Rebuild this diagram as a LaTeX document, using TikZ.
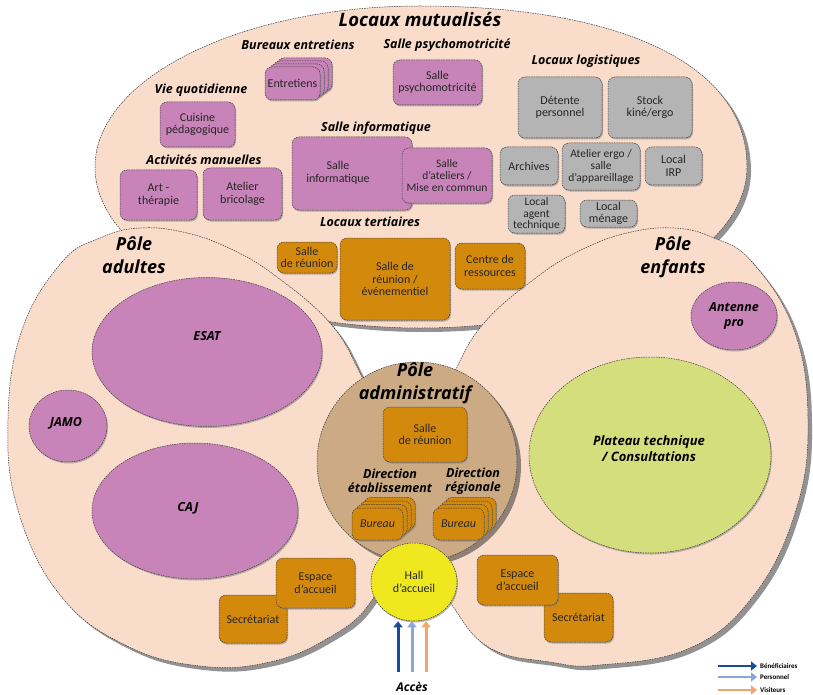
\documentclass[tikz,border=0pt]{standalone}
\usepackage{fontspec}
\setmainfont{Carlito}
\newfontfamily\hdfont{Open Sans}
\usetikzlibrary{shadows,arrows.meta,shapes.geometric}
\definecolor{peach}{RGB}{250,220,202}
\definecolor{mauve}{RGB}{200,132,184}
\definecolor{grayb}{RGB}{180,180,180}
\definecolor{ochre}{RGB}{211,137,12}
\definecolor{tan}{RGB}{204,170,132}
\definecolor{yel}{RGB}{240,232,30}
\definecolor{lime}{RGB}{212,222,124}
\definecolor{cBen}{RGB}{27,74,156}
\definecolor{cPer}{RGB}{138,166,216}
\definecolor{cVis}{RGB}{242,166,110}
\tikzset{
 outl/.style={draw=black!75, line width=0.5pt, dash pattern=on 1.6pt off 0.9pt},
 bigshadow/.style={drop shadow={shadow xshift=4pt, shadow yshift=-4pt, opacity=0.5, fill=black!85}},
 smallshadow/.style={drop shadow={shadow xshift=1pt, shadow yshift=-1.5pt, opacity=0.55}},
 wh/.style 2 args={minimum width=#1pt, minimum height=#2pt},
 room/.style={outl, rounded corners=7pt, align=center, inner sep=1pt, font=\fontsize{12}{12.5}\selectfont, text=black!85, smallshadow},
 mroom/.style={room, fill=mauve},
 groom/.style={room, fill=grayb},
 oroom/.style={room, fill=ochre},
 hd/.style={font=\hdfont\bfseries\itshape\fontsize{12.5}{14.5}\selectfont, align=center, inner sep=0pt},
 pole/.style={font=\hdfont\bfseries\itshape\fontsize{18}{23}\selectfont, align=center, inner sep=0pt},
 zone/.style={outl, ellipse, inner sep=0pt, smallshadow},
 zlabel/.style={font=\hdfont\bfseries\itshape\fontsize{12.5}{15}\selectfont, align=center, inner sep=0pt},
 plain/.style={font=\fontsize{12}{12.5}\selectfont, text=black!85, align=center, inner sep=0pt},
 arr/.style={line width=3pt, -{Triangle[width=9pt,length=6pt]}},
 legtext/.style={font=\bfseries\fontsize{7}{8}\selectfont, anchor=west, inner sep=0pt}
}
\begin{document}
\begin{tikzpicture}[x=1pt,y=-1pt]
\useasboundingbox (0,0) rectangle (813,695);

% ---------- big zones ----------
\path[outl, fill=peach, bigshadow] (420,6) .. controls (616,6) and (747,62) .. (747,167)
  .. controls (747,256) and (600,328) .. (420,328)
  .. controls (241,328) and (95,256) .. (95,167)
  .. controls (95,78) and (241,6) .. (420,6) -- cycle;
\path[outl, fill=peach, bigshadow] plot[smooth cycle, tension=0.7] coordinates {(140,228) (187,233) (233,250) (277,277) (330,323) (360,373) (385,430) (398,490) (392,550) (370,603) (330,637) (270,662) (200,666) (125,645) (60,595) (18,510) (8,420) (22,330) (62,262) (100,238)};
\path[outl, fill=peach, bigshadow] plot[smooth cycle, tension=0.7] coordinates {(674,228) (627,233) (581,250) (537,277) (484,323) (454,373) (429,430) (416,490) (422,550) (452,605) (490,648) (550,662) (600,665) (690,648) (754,595) (796,510) (808,420) (794,330) (752,262) (714,238)};
\node[circle, outl, fill=tan, minimum size=200pt, inner sep=0pt, bigshadow] (admin) at (417,462) {};

% ---------- Locaux mutualises ----------
\node[pole, font=\hdfont\bfseries\itshape\fontsize{18.5}{22}\selectfont] (titre) at (420,20) {Locaux mutualisés};
\node[hd] (hBur) at (298,45) {Bureaux entretiens};
\node[hd] (hPsy) at (447,45) {Salle psychomotricité};
\node[hd] (hLog) at (586,61) {Locaux logistiques};
\node[hd] (hVie) at (201,90) {Vie quotidienne};
\node[hd] (hAct) at (204,160) {Activités manuelles};
\node[hd] (hInf) at (376,128) {Salle informatique};
\node[hd] (hTer) at (370,222) {Locaux tertiaires};

\foreach \i in {3,2,1} \node[mroom, wh={55}{33}] (ent\i) at (292.5+4*\i, 83.5-3*\i) {};
\node[mroom, wh={55}{33}] (ent0) at (292.5,83.5) {Entretiens};
\node[mroom, wh={89}{45}] (psy) at (437.5,82.5) {Salle\\psychomotricité};
\node[mroom, wh={75}{45}] (cuis) at (197.5,124.5) {Cuisine\\pédagogique};
\node[mroom, wh={77}{50}] (art) at (158.5,195) {Art -\\thérapie};
\node[mroom, wh={79}{52}] (bric) at (242.5,194) {Atelier\\bricolage};
\node[mroom, wh={120}{73}] (info) at (352,173.5) {};
\node[plain] (infol) at (338,173) {Salle\\informatique};
\node[mroom, wh={90}{55}, font=\fontsize{11.5}{12}\selectfont] (atel) at (447,175.5) {Salle\\d'ateliers /\\Mise en commun};

\node[groom, wh={84}{61}] (det) at (560,107.5) {Détente\\personnel};
\node[groom, wh={84}{61}] (stock) at (650,107.5) {Stock\\kiné/ergo};
\node[groom, wh={58}{38}] (arch) at (529,166) {Archives};
\node[groom, wh={78}{47}, font=\fontsize{11.5}{12}\selectfont] (aterg) at (601,166.5) {Atelier ergo /\\salle\\d'appareillage};
\node[groom, wh={57}{38}] (irp) at (673.5,166) {Local\\IRP};
\node[groom, wh={57}{38}, font=\fontsize{11.5}{11.5}\selectfont] (agent) at (536.5,214) {Local\\agent\\technique};
\node[groom, wh={57}{27}] (men) at (608.5,213.5) {Local\\ménage};

\node[oroom, wh={60}{31}] (reun1) at (307,257.5) {Salle\\de réunion};
\node[oroom, wh={110}{82}] (event) at (395,279) {Salle de\\réunion /\\événementiel};
\node[oroom, wh={70}{46}] (centre) at (490,266) {Centre de\\ressources};

% ---------- Pole adultes ----------
\node[pole] (pAd) at (134,255) {Pôle\\adultes};
\node[zone, fill=mauve, wh={230}{149}] (esat) at (207,352) {};
\node[zlabel] (esatl) at (207,336) {ESAT};
\node[zone, fill=mauve, wh={78}{72}] (jamo) at (68,426) {};
\node[zlabel] (jamol) at (66,423) {JAMO};
\node[zone, fill=mauve, wh={206}{136}] (caj) at (195,511) {};
\node[zlabel] (cajl) at (188,508) {CAJ};
\node[oroom, wh={68}{48}] (secA) at (253,619) {Secrétariat};
\node[oroom, wh={79}{50}] (espA) at (315.5,583) {Espace\\d'accueil};

% ---------- Pole enfants ----------
\node[pole] (pEn) at (673,257) {Pôle\\enfants};
\node[zone, fill=mauve, wh={86}{68}, zlabel] (ant) at (734,316) {Antenne\\pro};
\node[zone, fill=lime, wh={242}{196}] (plat) at (650,455) {};
\node[zlabel, font=\hdfont\bfseries\itshape\fontsize{13}{16}\selectfont] (platl) at (649,449) {Plateau technique\\/ Consultations};
\node[oroom, wh={69}{49}] (secE) at (578.5,617.5) {Secrétariat};
\node[oroom, wh={81}{50}] (espE) at (517.5,580) {Espace\\d'accueil};

% ---------- Pole administratif ----------
\node[pole] (pAdm) at (415,383) {Pôle\\administratif};
\node[oroom, wh={84}{55}] (reun2) at (425,434.5) {Salle\\de réunion};
\node[hd] (dirE) at (390,481) {Direction\\établissement};
\node[hd] (dirR) at (473,481) {Direction\\régionale};
\foreach \i in {3,2,1} \node[oroom, wh={51}{32}] (bl\i) at (377.5+4*\i, 524-3.5*\i) {};
\node[oroom, wh={51}{32}] (bl0) at (377.5,524) {\itshape Bureau};
\foreach \i in {3,2,1} \node[oroom, wh={51}{32}] (br\i) at (458.5+4*\i, 524-3.5*\i) {};
\node[oroom, wh={51}{32}] (br0) at (458.5,524) {\itshape Bureau};

\node[ellipse, outl, fill=yel, wh={86}{78}, inner sep=0pt, align=center, smallshadow, font=\fontsize{12}{13}\selectfont, text=black!85] (hall) at (414,582) {Hall\\d'accueil};

% ---------- acces ----------
\coordinate (accB) at (398,672);
\coordinate (accP) at (412,672);
\coordinate (accV) at (426,672);
\draw[arr, cBen] (accB) -- (accB |- hall.south);
\draw[arr, cPer] (accP) -- (accP |- hall.south);
\draw[arr, cVis] (accV) -- (accV |- hall.south);
\node[zlabel, font=\hdfont\bfseries\itshape\fontsize{12}{13}\selectfont] (acces) at (412,687) {Accès};

% ---------- legende ----------
\coordinate (lg1a) at (718,666); \coordinate (lg1b) at (757,666);
\coordinate (lg2a) at (718,677); \coordinate (lg2b) at (757,677);
\coordinate (lg3a) at (718,690); \coordinate (lg3b) at (757,690);
\draw[arr, cBen, line width=2.5pt] (lg1a) -- (lg1b);
\draw[arr, cPer, line width=2.5pt] (lg2a) -- (lg2b);
\draw[arr, cVis, line width=2.5pt] (lg3a) -- (lg3b);
\node[legtext] (lt1) at (760,666) {Bénéficiaires};
\node[legtext] (lt2) at (760,677) {Personnel};
\node[legtext] (lt3) at (760,690) {Visiteurs};
\end{tikzpicture}
\end{document}
